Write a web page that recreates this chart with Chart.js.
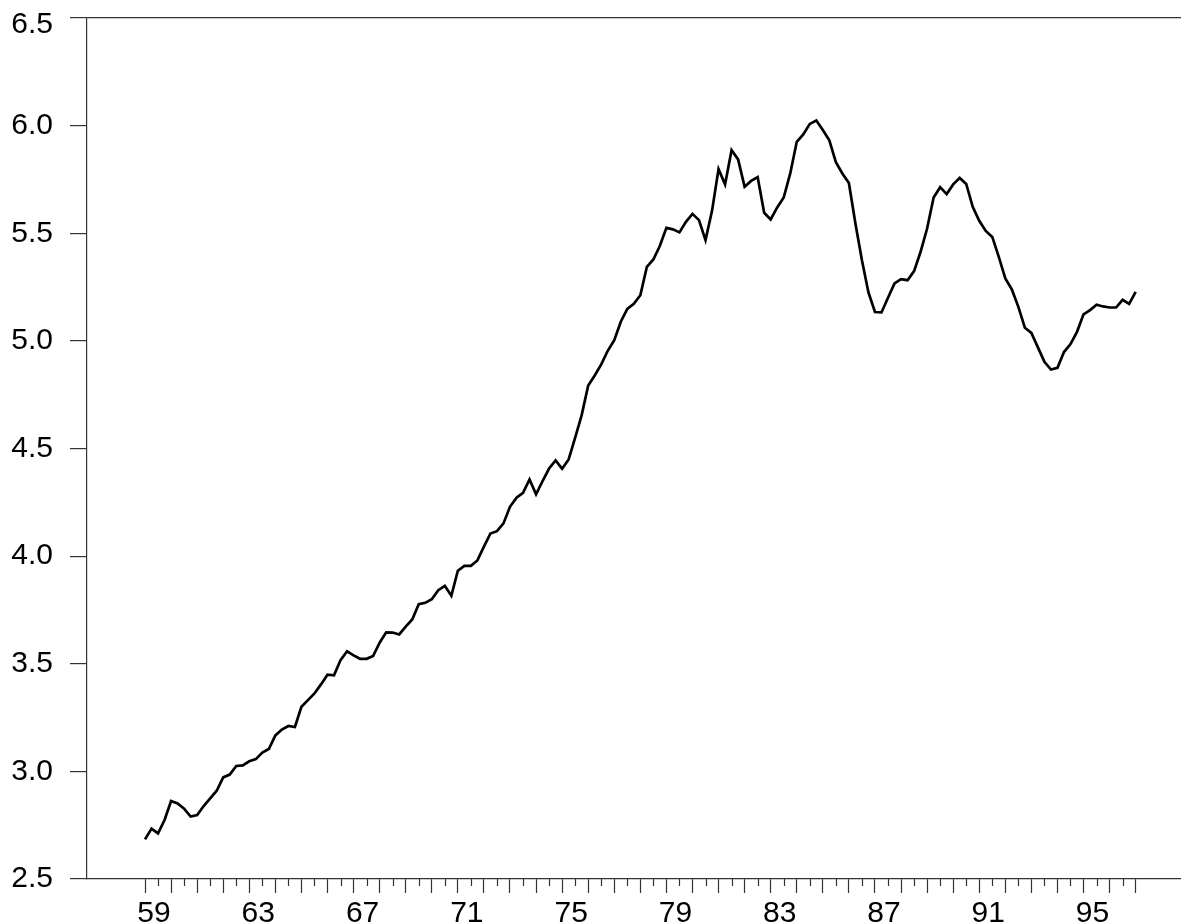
<!DOCTYPE html>
<html><head><meta charset="utf-8">
<script src="https://cdn.jsdelivr.net/npm/chart.js@4.4.0/dist/chart.umd.min.js"></script>
<style>html,body{margin:0;padding:0;background:#fff;overflow:hidden}canvas{display:block}</style>
</head><body>
<canvas id="c" width="1181" height="924"></canvas>
<script>
// ---- data (quarterly, starting 1959Q1) ----
const startYear = 1959;
const quartersPerYear = 4;
const values1959_1968 = [2.684,2.734,2.712,2.774,2.862,2.851,2.827,2.790,2.797,2.839,
  2.875,2.910,2.972,2.985,3.025,3.028,3.047,3.057,3.087,3.104,
  3.167,3.194,3.211,3.206,3.300,3.331,3.362,3.404,3.449,3.446,
  3.517,3.558,3.539,3.523,3.523,3.536,3.598,3.646,3.645,3.636];
const values1969_1978 = [3.672,3.706,3.777,3.783,3.800,3.842,3.862,3.816,3.932,3.955,
  3.955,3.980,4.044,4.105,4.116,4.152,4.229,4.271,4.294,4.356,
  4.287,4.349,4.407,4.445,4.406,4.449,4.551,4.655,4.793,4.839,
  4.891,4.954,5.003,5.089,5.149,5.172,5.212,5.344,5.378,5.442];
const values1979_1988 = [5.525,5.518,5.504,5.553,5.590,5.561,5.468,5.604,5.798,5.727,
  5.886,5.843,5.716,5.743,5.761,5.595,5.564,5.620,5.666,5.778,
  5.925,5.959,6.008,6.024,5.980,5.932,5.830,5.778,5.733,5.545,
  5.375,5.225,5.134,5.132,5.200,5.267,5.287,5.282,5.324,5.414];
const values1989_1997 = [5.522,5.666,5.714,5.682,5.727,5.757,5.729,5.623,5.558,5.511,
  5.483,5.390,5.290,5.239,5.158,5.061,5.037,4.970,4.903,4.867,
  4.875,4.948,4.985,5.042,5.123,5.143,5.168,5.160,5.155,5.155,
  5.191,5.172,5.228];
const xLabelYears = [1959,1963,1967,1971,1975,1979,1983,1987,1991,1995];
const xTickLabels = ['59','63','67','71','75','79','83','87','91','95'];
const yTickValues = [2.5,3.0,3.5,4.0,4.5,5.0,5.5,6.0,6.5];
const yTickLabels = ['2.5','3.0','3.5','4.0','4.5','5.0','5.5','6.0','6.5'];

const values = [].concat(values1959_1968, values1969_1978, values1979_1988, values1989_1997);
const points = values.map((v, i) => ({ x: startYear + i / quartersPerYear, y: v }));
const firstTickYear = startYear;
const lastTickYear = startYear + Math.ceil((values.length - 1) / quartersPerYear);
const yTop = yTickValues[yTickValues.length - 1];

const AXIS = '#333';
const FAMILY = '"Liberation Sans", Arial, Helvetica, sans-serif';
const FONT = { family: FAMILY, size: 30 };

const minorTicks = {
  id: 'minorTicks',
  afterDraw(chart) {
    const xs = chart.scales.x, ctx = chart.ctx, b = chart.chartArea.bottom;
    ctx.save();
    ctx.strokeStyle = AXIS; ctx.lineWidth = 1.2;
    for (let yr = firstTickYear + 0.5; yr < lastTickYear; yr += 1) {
      const px = Math.round(xs.getPixelForValue(yr)) + 0.5;
      ctx.beginPath(); ctx.moveTo(px, b); ctx.lineTo(px, b + 7); ctx.stroke();
    }
    ctx.restore();
  }
};

new Chart(document.getElementById('c'), {
  type: 'line',
  data: { datasets: [{ data: points, borderColor: '#000', borderWidth: 2.7, pointRadius: 0, tension: 0, fill: false }] },
  plugins: [minorTicks],
  options: {
    responsive: false, animation: false, devicePixelRatio: 1,
    layout: { padding: { top: 18, left: 0, right: 0, bottom: 0 } },
    plugins: { legend: { display: false }, tooltip: { enabled: false } },
    scales: {
      x: {
        type: 'linear', min: 1956.775, max: 1998.739,
        afterFit(s) { s.height = 45; s.paddingLeft = 0; s.paddingRight = 0; },
        afterBuildTicks(s) { const t = []; for (let y = firstTickYear; y <= lastTickYear; y++) t.push({ value: y }); s.ticks = t; },
        ticks: {
          autoSkip: false, maxRotation: 0, minRotation: 0, labelOffset: 9, padding: 3,
          font: FONT, color: '#000',
          callback: (v) => { const k = xLabelYears.indexOf(v); return k >= 0 ? xTickLabels[k] : ''; }
        },
        grid: { drawOnChartArea: false, drawTicks: true, tickLength: 14, tickColor: AXIS, tickWidth: 1.2 },
        border: { display: true, color: AXIS, width: 1.2 }
      },
      y: {
        type: 'linear', min: 2.5, max: 6.5,
        afterFit(s) { s.width = 87; s.paddingTop = 0; s.paddingBottom = 0; },
        afterBuildTicks(s) { s.ticks = yTickValues.map(v => ({ value: v })); },
        ticks: {
          padding: 17, color: '#000',
          // top label sits a little below its tick, as in the original
          font: (c) => (c.tick && c.tick.value === yTop) ? { family: FAMILY, size: 30, lineHeight: 14 / 30 } : FONT,
          callback: (v) => {
            const k = yTickValues.indexOf(v);
            if (k < 0) return '';
            return v === yTop ? ['', yTickLabels[k]] : yTickLabels[k];
          }
        },
        grid: {
          drawOnChartArea: true, drawTicks: true, tickLength: 17,
          color: (c) => (c.tick && c.tick.value === yTop) ? AXIS : 'rgba(0,0,0,0)',
          tickColor: AXIS, lineWidth: 1.2, tickWidth: 1.2
        },
        border: { display: true, color: AXIS, width: 1.2 }
      }
    }
  }
});
</script>
</body></html>
